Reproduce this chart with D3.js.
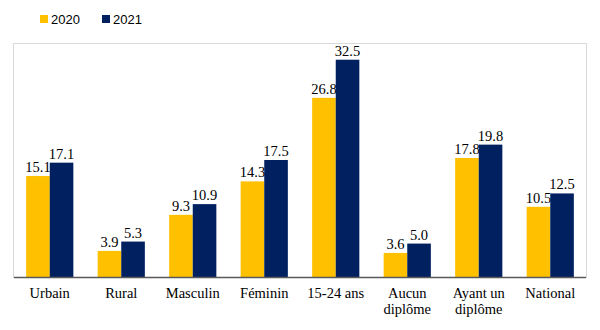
<!DOCTYPE html>
<html>
<head>
<meta charset="utf-8">
<script src="https://cdn.jsdelivr.net/npm/d3@7"></script>
<style>
  body { margin: 0; background: #fff; }
  .lab { font-family: "Liberation Serif", "DejaVu Serif", serif; font-size: 14.5px; fill: #000; }
  .leg { font-family: "Liberation Sans", "Open Sans", sans-serif; font-size: 13px; fill: #000; }
</style>
</head>
<body>
<svg id="canvas" width="600" height="330"></svg>
<script>
// data
const categories = [["Urbain"], ["Rural"], ["Masculin"], ["Féminin"], ["15-24 ans"], ["Aucun", "diplôme"], ["Ayant un", "diplôme"], ["National"]];
const series = ["2020", "2021"];
const values2020 = [15.1, 3.9, 9.3, 14.3, 26.8, 3.6, 17.8, 10.5];
const values2021 = [17.1, 5.3, 10.9, 17.5, 32.5, 5.0, 19.8, 12.5];
const colors = ["#FFC000", "#002060"];

const svg = d3.select("#canvas");
const plotL = 14, plotR = 586, plotT = 43, plotB = 277;

const x = d3.scaleBand()
  .domain(d3.range(categories.length))
  .range([plotL, plotR])
  .paddingInner(0.34)
  .paddingOuter(0.17);

const xs = d3.scaleBand()
  .domain(series)
  .range([0, x.bandwidth()]);

const y = d3.scaleLinear()
  .domain([0, 35])
  .range([plotB, plotT]);

//plot area border
svg.append("rect")
  .attr("x", plotL - 0.5).attr("y", plotT + 0.5)
  .attr("width", plotR - plotL + 1).attr("height", plotB - plotT)
  .attr("fill", "none").attr("stroke", "#d9d9d9");

const rows = [values2020, values2021];

series.forEach((s, si) => {
  const g = svg.append("g");
  g.selectAll("rect")
    .data(rows[si])
    .join("rect")
      .attr("x", (d, i) => x(i) + xs(s))
      .attr("y", d => y(d))
      .attr("width", xs.bandwidth())
      .attr("height", d => y(0) - y(d))
      .attr("fill", colors[si]);

  g.selectAll("text")
    .data(rows[si])
    .join("text")
      .attr("class", "lab")
      .attr("x", (d, i) => x(i) + xs(s) + xs.bandwidth() / 2)
      .attr("y", d => y(d) - 4)
      .attr("text-anchor", "middle")
      .text(d => d.toFixed(1));
});

//x axis line
svg.append("line")
  .attr("x1", plotL).attr("x2", plotR)
  .attr("y1", plotB + 0.5).attr("y2", plotB + 0.5)
  .attr("stroke", "#595959").attr("stroke-width", 1.3);

//category labels
const cl = svg.selectAll(".cat")
  .data(categories)
  .join("text")
    .attr("class", "lab cat")
    .attr("text-anchor", "middle")
    .attr("x", (d, i) => x(i) + x.bandwidth() / 2)
    .attr("y", 298);
cl.selectAll("tspan")
  .data(d => d)
  .join("tspan")
    .attr("x", function() { return this.parentNode.getAttribute("x"); })
    .attr("dy", (d, i) => i === 0 ? 0 : 16)
    .text(d => d);

//legend
const legend = svg.selectAll(".legend")
  .data(series)
  .join("g")
    .attr("class", "legend")
    .attr("transform", (d, i) => "translate(" + (40 + i * 62) + ",15)");
legend.append("rect")
  .attr("width", 8).attr("height", 8)
  .attr("fill", (d, i) => colors[i]);
legend.append("text")
  .attr("class", "leg")
  .attr("x", 11).attr("y", 9)
  .text(d => d);
</script>
</body>
</html>
